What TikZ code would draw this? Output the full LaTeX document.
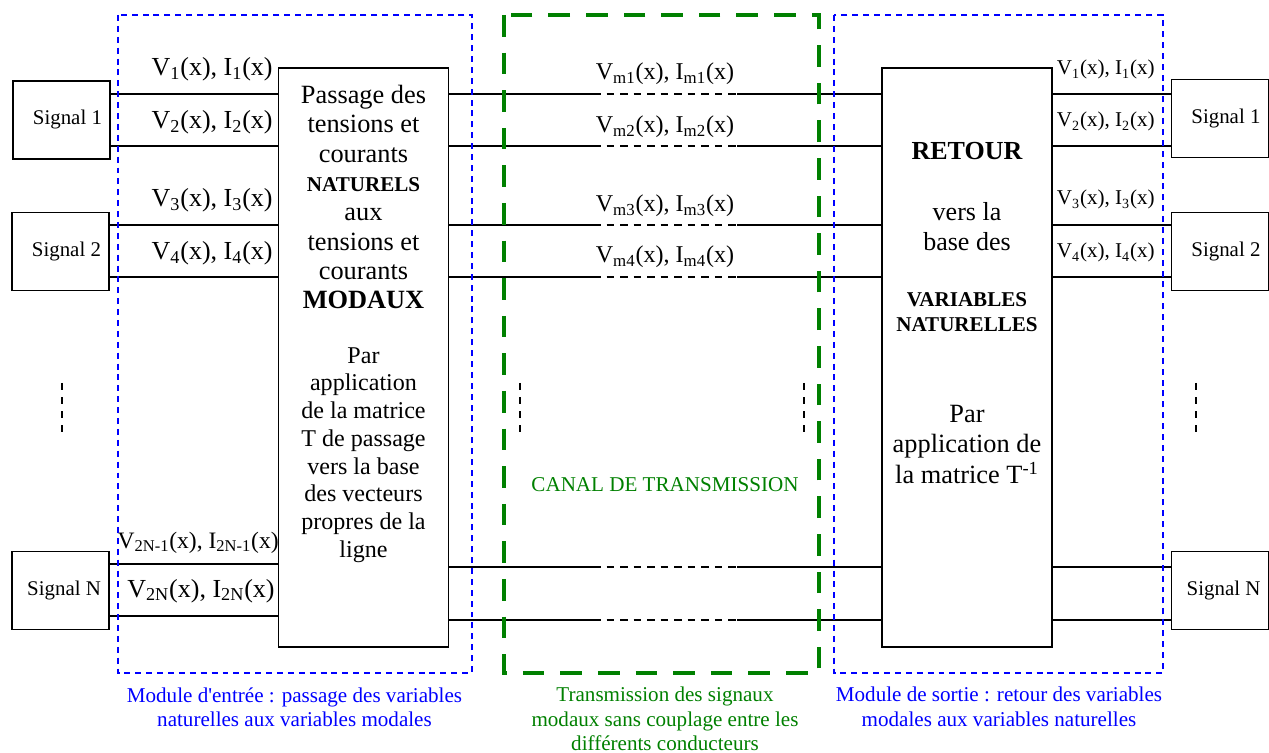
\documentclass[tikz,border=0pt]{standalone}
\usepackage{fontspec}
\setmainfont{Liberation Serif}
\usetikzlibrary{positioning}
\newlength\px \setlength\px{0.02cm}
\definecolor{vert}{RGB}{0,128,0}
\tikzset{
  sigbox/.style={draw, line width=1pt, minimum width=97\px, minimum height=78\px,
    text width=81\px, inner xsep=8\px, align=flush right, font=\fontsize{11.9}{14}\selectfont},
  matbox/.style={draw, line width=1pt, minimum width=170\px, minimum height=579\px},
  wire/.style={line width=0.8pt},
  coupure/.style={wire, dash pattern=on 4.3pt off 3.4pt},
  pointille/.style={line width=0.9pt, dash pattern=on 4pt off 4pt},
  cadre/.style={blue, line width=1pt, dash pattern=on 3.4pt off 2.8pt},
  canal/.style={vert, line width=2.6pt, dash pattern=on 12.3pt off 9.1pt},
  vlab/.style={anchor=base east, inner sep=0pt, font=\fontsize{14.8}{16}\selectfont},
  vlabr/.style={anchor=base east, inner sep=0pt, font=\fontsize{12}{14}\selectfont},
  vmlab/.style={anchor=base, inner sep=0pt, font=\fontsize{13.7}{15}\selectfont},
  boxtxt/.style={align=center, inner sep=0pt},
  legende/.style={anchor=north, align=center, inner sep=0pt, font=\fontsize{12}{13.7}\selectfont}
}
\begin{document}
\begin{tikzpicture}[x=0.02cm, y=-0.02cm]
  \useasboundingbox (0,0) rectangle (1269,753);

  % Niveaux des conducteurs
  \coordinate (w1) at (0,94);
  \coordinate (w2) at (0,146);
  \coordinate (w3) at (0,225);
  \coordinate (w4) at (0,277);
  \coordinate (wa) at (0,564); % entree, conducteurs 2N-1 et 2N
  \coordinate (wb) at (0,616);
  \coordinate (w5) at (0,567);
  \coordinate (w6) at (0,620);
  % Debut et fin de la coupure du canal
  \coordinate (da) at (593,0);
  \coordinate (db) at (737,0);

  % Signaux
  \node[sigbox] (sg1) at (61.5,120)  {Signal 1};
  \node[sigbox] (sg2) at (60.5,251.5) {Signal 2};
  \node[sigbox] (sgN) at (60.5,590.5) {Signal N};
  \node[sigbox] (rs1) at (1220,118.5) {Signal 1};
  \node[sigbox] (rs2) at (1220,251.5) {Signal 2};
  \node[sigbox] (rsN) at (1220,590.5) {Signal N};

  % Blocs de passage
  \node[matbox] (entree) at (363.5,357.5) {};
  \node[matbox] (sortie) at (967,357.5) {};

  % Texte du bloc d'entree
  \node[boxtxt, font=\fontsize{15}{16.7}\selectfont] (txtA) at (363.5,197)
    {Passage des\\tensions et\\courants\\{\fontsize{12}{16.7}\selectfont\bfseries NATURELS}\\aux\\tensions et\\courants\\{\fontsize{15}{16.7}\selectfont\bfseries MODAUX}};
  \node[boxtxt, font=\fontsize{13.7}{15.8}\selectfont] (txtB) at (363.5,455)
    {Par\\application\\de la matrice\\T de passage\\vers la base\\des vecteurs\\propres de la\\ligne};

  % Texte du bloc de sortie
  \node[boxtxt, font=\fontsize{14.8}{17}\selectfont\bfseries] (txtC) at (967,151) {RETOUR};
  \node[boxtxt, font=\fontsize{14.8}{17}\selectfont] (txtD) at (967,227) {vers la\\base des};
  \node[boxtxt, font=\fontsize{12}{14.2}\selectfont\bfseries] (txtE) at (967,312.5) {VARIABLES\\NATURELLES};
  \node[boxtxt, font=\fontsize{15}{17.5}\selectfont] (txtF) at (967,444.5)
    {Par\\application de\\la matrice T\textsuperscript{-1}};

  % Conducteurs cote entree
  \foreach \s/\a/\b in {sg1/w1/w2, sg2/w3/w4, sgN/wa/wb}
    \draw[wire] (\s.east |- \a) -- (entree.west |- \a)
                (\s.east |- \b) -- (entree.west |- \b);

  % Conducteurs du canal
  \foreach \w in {w1,w2,w3,w4,w5,w6}{
    \draw[wire] (entree.east |- \w) -- (da |- \w);
    \draw[coupure] (da |- \w) -- (db |- \w);
    \draw[wire] (db |- \w) -- (sortie.west |- \w);
  }

  % Conducteurs cote sortie
  \foreach \s/\a/\b in {rs1/w1/w2, rs2/w3/w4, rsN/w5/w6}
    \draw[wire] (sortie.east |- \a) -- (\s.west |- \a)
                (sortie.east |- \b) -- (\s.west |- \b);

  % Variables naturelles (entree)
  \node[vlab] (v1) at (273,76)  {V\textsubscript{1}(x), I\textsubscript{1}(x)};
  \node[vlab] (v2) at (273,129) {V\textsubscript{2}(x), I\textsubscript{2}(x)};
  \node[vlab] (v3) at (273,207) {V\textsubscript{3}(x), I\textsubscript{3}(x)};
  \node[vlab] (v4) at (273,260) {V\textsubscript{4}(x), I\textsubscript{4}(x)};
  \node[vlab, font=\fontsize{13.4}{15}\selectfont] (v5) at (279,548) {V\textsubscript{2N-1}(x), I\textsubscript{2N-1}(x)};
  \node[vlab] (v6) at (275,597) {V\textsubscript{2N}(x), I\textsubscript{2N}(x)};

  % Variables modales
  \node[vmlab] (vm1) at (665,80)  {V\textsubscript{m1}(x), I\textsubscript{m1}(x)};
  \node[vmlab] (vm2) at (665,133) {V\textsubscript{m2}(x), I\textsubscript{m2}(x)};
  \node[vmlab] (vm3) at (665,212) {V\textsubscript{m3}(x), I\textsubscript{m3}(x)};
  \node[vmlab] (vm4) at (665,263) {V\textsubscript{m4}(x), I\textsubscript{m4}(x)};

  % Variables naturelles (sortie)
  \node[vlabr] (u1) at (1155,75)  {V\textsubscript{1}(x), I\textsubscript{1}(x)};
  \node[vlabr] (u2) at (1155,127) {V\textsubscript{2}(x), I\textsubscript{2}(x)};
  \node[vlabr] (u3) at (1155,205) {V\textsubscript{3}(x), I\textsubscript{3}(x)};
  \node[vlabr] (u4) at (1155,258) {V\textsubscript{4}(x), I\textsubscript{4}(x)};

  % Points de suspension
  \draw[pointille] (62,383)   -- (62,432);
  \draw[pointille] (520,383)  -- (520,432);
  \draw[pointille] (804,383)  -- (804,432);
  \draw[pointille] (1196,383) -- (1196,432);

  % Cadres des modules
  \draw[cadre] (118,15) rectangle (472,673);
  \draw[cadre] (834,15) rectangle (1163,673);
  \draw[canal] (504,15) rectangle (819,673);

  \node[vert, font=\fontsize{12}{14}\selectfont] (nomcanal) at (665,485) {CANAL DE TRANSMISSION};

  % Legendes
  \node[legende, blue] (lgA) at (294.5,687)
    {Module d\textquotesingle entrée : passage des variables\\naturelles aux variables modales};
  \node[legende, vert] (lgB) at (665,687)
    {Transmission des signaux\\modaux sans couplage entre les\\différents conducteurs};
  \node[legende, blue] (lgC) at (999,687)
    {Module de sortie : retour des variables\\modales aux variables naturelles};
\end{tikzpicture}
\end{document}
